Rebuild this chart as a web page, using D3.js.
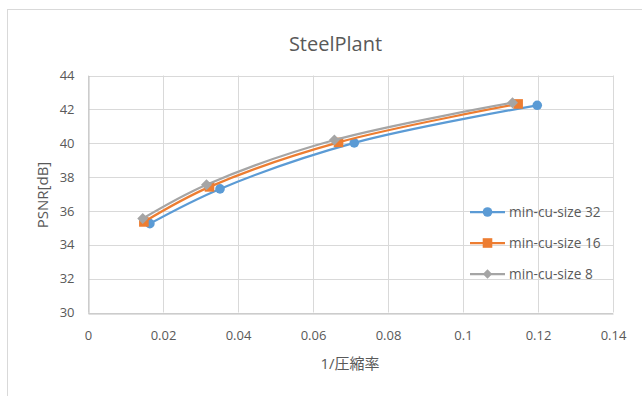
<!DOCTYPE html>
<html><head><meta charset="utf-8">
<script src="https://cdn.jsdelivr.net/npm/d3@7"></script>
<style>
body{margin:0;background:#fff;}
text{font-family:"Open Sans","Noto Sans CJK JP",sans-serif;fill:#595959;}
</style></head>
<body>
<svg id="c" width="642" height="396"></svg>
<script>
const seriesNames = ["min-cu-size 32","min-cu-size 16","min-cu-size 8"];
const x32 = [0.0165, 0.0352, 0.0710, 0.1198];
const y32 = [35.25, 37.30, 40.02, 42.24];
const x16 = [0.0149, 0.0324, 0.0668, 0.1147];
const y16 = [35.35, 37.42, 40.05, 42.32];
const x8  = [0.0146, 0.0316, 0.0657, 0.1132];
const y8  = [35.55, 37.55, 40.19, 42.39];
const xTicks = [0, 0.02, 0.04, 0.06, 0.08, 0.1, 0.12, 0.14];
const yTicks = [30, 32, 34, 36, 38, 40, 42, 44];
const colors = ["#5B9BD5","#ED7D31","#A5A5A5"];
const markers = ["circle","square","diamond"];

const svg = d3.select("#c");
// chart frame
svg.append("rect").attr("x",7.5).attr("y",9.5).attr("width",700).attr("height",420)
  .attr("fill","#fff").attr("stroke","#d9d9d9").attr("stroke-width",1);

const m = {l:88, r:613, t:75.5, b:312.5};
const x = d3.scaleLinear().domain([0,0.14]).range([m.l,m.r]);
const y = d3.scaleLinear().domain([30,44]).range([m.b,m.t]);

// gridlines
svg.append("g").selectAll("line.h").data(yTicks).join("line")
  .attr("x1",m.l).attr("x2",m.r).attr("y1",d=>Math.round(y(d))+0.5).attr("y2",d=>Math.round(y(d))+0.5)
  .attr("stroke","#d9d9d9").attr("stroke-width",1);
svg.append("g").selectAll("line.v").data(xTicks).join("line")
  .attr("y1",m.t).attr("y2",m.b).attr("x1",d=>Math.round(x(d))+0.5).attr("x2",d=>Math.round(x(d))+0.5)
  .attr("stroke","#d9d9d9").attr("stroke-width",1);

// axes
const xAxis = svg.append("g").attr("transform",`translate(0,${Math.round(y(30))+0.5})`)
  .call(d3.axisBottom(x).tickValues(xTicks).tickSize(0).tickPadding(17).tickFormat(d=>String(d)));
xAxis.select(".domain").attr("stroke","#bfbfbf");
xAxis.selectAll("text").attr("font-size",13).style("font-family","Open Sans");
const yAxis = svg.append("g").attr("transform",`translate(${Math.round(x(0))+0.5},0)`)
  .call(d3.axisLeft(y).tickValues(yTicks).tickSize(0).tickPadding(14).tickFormat(d=>String(d)));
yAxis.select(".domain").attr("stroke","#bfbfbf");
yAxis.selectAll("text").attr("font-size",13).style("font-family","Open Sans");

// titles
svg.append("text").attr("x",335.5).attr("y",51).attr("text-anchor","middle").attr("font-size",20).text("SteelPlant");
svg.append("text").attr("x",350).attr("y",369).attr("text-anchor","middle").attr("font-size",15).text("1/圧縮率");
svg.append("text").attr("transform","translate(48,195) rotate(-90)").attr("text-anchor","middle").attr("font-size",15).text("PSNR[dB]");

const series = [
  {name:seriesNames[0], xs:x32, ys:y32},
  {name:seriesNames[1], xs:x16, ys:y16},
  {name:seriesNames[2], xs:x8,  ys:y8}
];
const line = d3.line().x(d=>x(d[0])).y(d=>y(d[1])).curve(d3.curveCatmullRom.alpha(0.5));

function drawMarker(g, type, cx, cy, color, scale){
  scale = scale||1;
  if(type==="circle") g.append("circle").attr("cx",cx).attr("cy",cy).attr("r",4.8*scale).attr("fill",color);
  else if(type==="square") g.append("rect").attr("x",cx-4.8*scale).attr("y",cy-4.8*scale).attr("width",9.6*scale).attr("height",9.6*scale).attr("fill",color);
  else g.append("path").attr("d",`M${cx},${cy-5.5*scale}L${cx+5.5*scale},${cy}L${cx},${cy+5.5*scale}L${cx-5.5*scale},${cy}Z`).attr("fill",color);
}

series.forEach((s,i)=>{
  const pts = s.xs.map((v,k)=>[v,s.ys[k]]);
  const g = svg.append("g");
  g.append("path").attr("d",line(pts)).attr("fill","none").attr("stroke",colors[i]).attr("stroke-width",2.25);
  pts.forEach(p=>drawMarker(g,markers[i],x(p[0]),y(p[1]),colors[i]));
});

// legend
const ly = [212, 243, 274];
series.forEach((s,i)=>{
  const g = svg.append("g");
  g.append("line").attr("x1",470).attr("x2",505).attr("y1",ly[i]).attr("y2",ly[i]).attr("stroke",colors[i]).attr("stroke-width",2.25);
  drawMarker(g,markers[i],487.5,ly[i],colors[i], i===2?0.85:1);
  g.append("text").attr("x",509).attr("y",ly[i]+5).attr("font-size",13.7).text(s.name);
});
</script>
</body></html>
